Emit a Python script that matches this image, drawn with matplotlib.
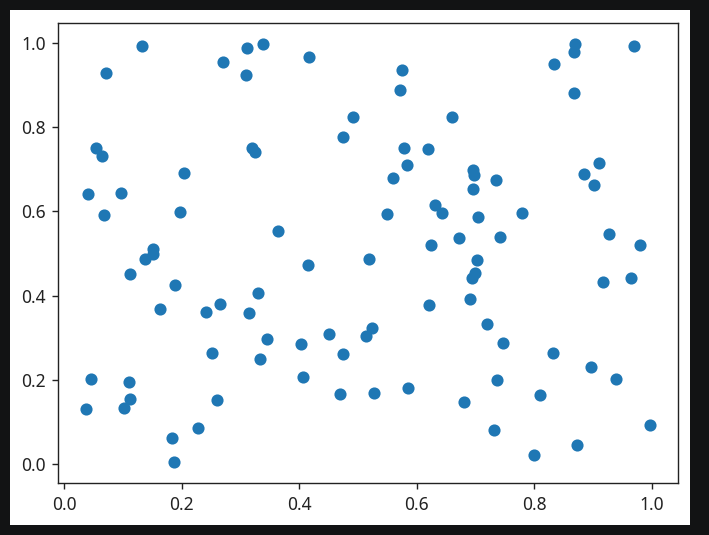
import matplotlib.pyplot as plt
from matplotlib.patches import Rectangle

# points (100 random-looking points)
x = [0.1318, 0.0705, 0.2697, 0.3122, 0.3105, 0.3378, 0.0551, 0.0637, 0.2038, 0.0409,
     0.0977, 0.0681, 0.1981, 0.3207, 0.3247, 0.4166, 0.5744, 0.5720, 0.4915, 0.6595,
     0.4745, 0.5783, 0.6192, 0.5829, 0.5596, 0.6316, 0.6425, 0.5489, 0.3638, 0.6254,
     0.6728, 0.8700, 0.8677, 0.9704, 0.8342, 0.8677, 0.6953, 0.6975, 0.7344, 0.6953,
     0.9108, 0.8848, 0.9018, 0.7043, 0.7787, 0.7423, 0.9278, 0.9806, 0.1515, 0.1515,
     0.1379, 0.1118, 0.1885, 0.3298, 0.1641, 0.2424, 0.2656, 0.3150, 0.2526, 0.3343,
     0.0466, 0.1101, 0.1118, 0.0381, 0.1021, 0.2600, 0.2276, 0.1834, 0.1868, 0.4149,
     0.5187, 0.6209, 0.3446, 0.4041, 0.4506, 0.5233, 0.5141, 0.4745, 0.4064, 0.4699,
     0.5272, 0.5851, 0.7021, 0.6997, 0.6936, 0.9171, 0.9659, 0.6912, 0.7191, 0.7469,
     0.8320, 0.8962, 0.9387, 0.7361, 0.6805, 0.8104, 0.9976, 0.7320, 0.8723, 0.8001]
y = [0.9929, 0.9288, 0.9549, 0.9874, 0.9226, 0.9969, 0.7508, 0.7318, 0.6907, 0.6409,
     0.6432, 0.5903, 0.5989, 0.7508, 0.7413, 0.9668, 0.9345, 0.8870, 0.8244, 0.8244,
     0.7769, 0.7508, 0.7484, 0.7090, 0.6796, 0.6148, 0.5965, 0.5934, 0.5523, 0.5198,
     0.5368, 0.9980, 0.9779, 0.9914, 0.9494, 0.8814, 0.6978, 0.6852, 0.6734, 0.6527,
     0.7145, 0.6883, 0.6615, 0.5870, 0.5965, 0.5395, 0.5459, 0.5198, 0.5103, 0.4977,
     0.4866, 0.4503, 0.4242, 0.4067, 0.3672, 0.3615, 0.3798, 0.3592, 0.2635, 0.2492,
     0.2018, 0.1954, 0.1543, 0.1305, 0.1337, 0.1511, 0.0855, 0.0625, 0.0040, 0.4716,
     0.4858, 0.3766, 0.2967, 0.2848, 0.3086, 0.3235, 0.3045, 0.2611, 0.2073, 0.1662,
     0.1693, 0.1812, 0.4835, 0.4541, 0.4415, 0.4327, 0.4422, 0.3916, 0.3323, 0.2872,
     0.2635, 0.2310, 0.2018, 0.1987, 0.1479, 0.1631, 0.0918, 0.0800, 0.0444, 0.0206]

plt.rcParams['font.family'] = ['Noto Sans', 'DejaVu Sans']

W, H = 709, 535
fig = plt.figure(figsize=(W / 100, H / 100), dpi=100, facecolor='#121314')
# white figure area inside the dark frame
fig.patches.append(Rectangle((10 / W, (H - 525) / H), 680 / W, 515 / H,
                             transform=fig.transFigure, facecolor='white',
                             edgecolor='none', zorder=-10))

ax = fig.add_axes([58.3 / W, (H - 483.3) / H, 620 / W, 460.6 / H])
ax.set_zorder(5)
ax.scatter(x, y, s=56, linewidths=1.25, color='#1f77b4')

for sp in ax.spines.values():
    sp.set_linewidth(1.0)
    sp.set_color('#222222')
ax.tick_params(length=4.4, width=1.0, pad=4.4, labelsize=12.5,
               colors='#222222')

fig.savefig('out.png', dpi=100, facecolor=fig.get_facecolor())
